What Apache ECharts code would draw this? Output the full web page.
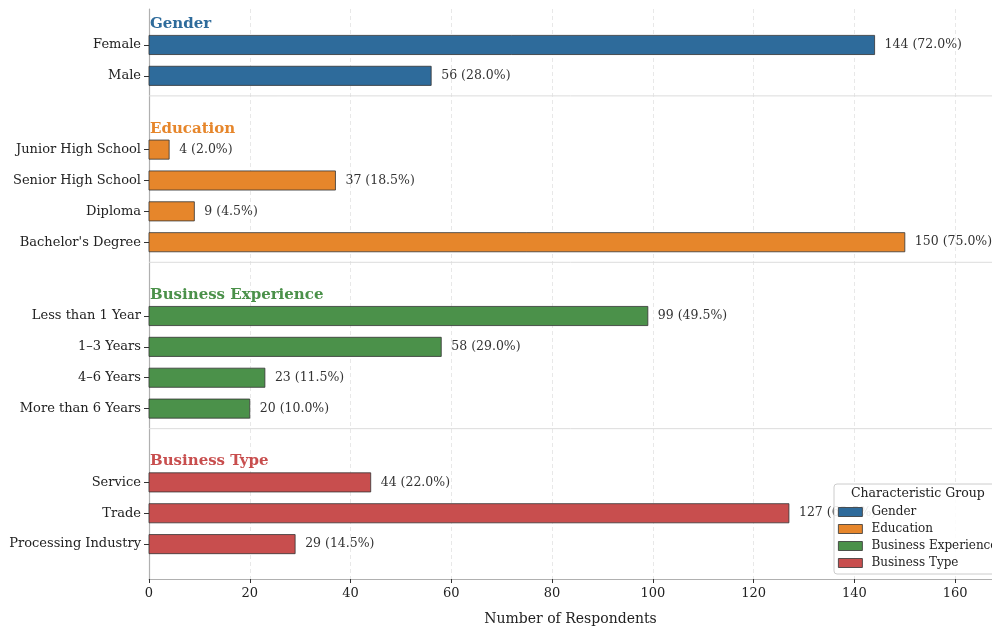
<!DOCTYPE html>
<html style="height: 100%">
<head>
<meta charset="utf-8">
<script src="https://cdn.jsdelivr.net/npm/echarts@6/dist/echarts.min.js"></script>
</head>
<body style="height: 100%; margin: 0; background: #fff;">
<div id="container" style="width: 992px; height: 627px;"></div>
<script type="text/javascript">
// data
var groups = ['Gender', 'Education', 'Business Experience', 'Business Type'];
var genderCats = ['Female', 'Male'];
var genderCounts = [144, 56];
var eduCats = ['Junior High School', 'Senior High School', 'Diploma', "Bachelor's Degree"];
var eduCounts = [4, 37, 9, 150];
var expCats = ['Less than 1 Year', '1–3 Years', '4–6 Years', 'More than 6 Years'];
var expCounts = [99, 58, 23, 20];
var typeCats = ['Service', 'Trade', 'Processing Industry'];
var typeCounts = [44, 127, 29];
var total = 200;

var groupCats = [genderCats, eduCats, expCats, typeCats];
var groupCounts = [genderCounts, eduCounts, expCounts, typeCounts];
var colors = ['#2e6b9b', '#e6862b', '#4b914a', '#c84e4e'];
var FONT = '"DejaVu Serif", serif';
var GAP = 2.39;   // distance between last row of a group and first row of next

// row positions on the (inverted) y value axis
var positions = [], names = [], separators = [], seriesData = [];
var pos = 0;
groupCats.forEach(function (cats, g) {
    var d = [];
    cats.forEach(function (c, i) {
        positions.push(pos);
        names.push(c);
        d.push([groupCounts[g][i], pos, i]);
        if (i < cats.length - 1) pos += 1;
    });
    seriesData.push(d);
    if (g < groupCats.length - 1) {
        separators.push(pos + 0.65);
        pos += GAP;
    }
});

function nameAt(v) {
    var best = 0;
    for (var i = 1; i < positions.length; i++) {
        if (Math.abs(positions[i] - v) < Math.abs(positions[best] - v)) best = i;
    }
    return names[best];
}

function makeRender(g) {
    return function (params, api) {
        var v = api.value(0), y = api.value(1);
        var start = api.coord([0, y]);
        var end = api.coord([v, y]);
        var h = api.size([0, 1])[1] * 0.62;
        var children = [{
            type: 'rect',
            shape: {x: start[0], y: start[1] - h / 2, width: end[0] - start[0], height: h},
            style: {fill: colors[g], stroke: '#333', lineWidth: 0.8}
        }, {
            type: 'text',
            x: end[0] + 10, y: end[1],
            style: {
                text: v + ' (' + (v / total * 100).toFixed(1) + '%)',
                fill: '#333', font: '12.5px ' + FONT,
                verticalAlign: 'middle', align: 'left'
            }
        }];
        if (api.value(2) === 0) {
            var t = api.coord([0, y - 0.68]);
            children.push({
                type: 'text',
                x: t[0] + 1, y: t[1],
                style: {
                    text: groups[g], fill: colors[g],
                    font: 'bold 15px ' + FONT,
                    verticalAlign: 'middle', align: 'left'
                }
            });
        }
        return {type: 'group', children: children};
    };
}

// group separators drawn by a custom series across the whole x range
function renderSeparator(params, api) {
    var y = api.value(0);
    var a = api.coord([0, y]);
    var b = api.coord([167.3, y]);
    return {
        type: 'line',
        shape: {x1: a[0], y1: a[1], x2: b[0], y2: b[1]},
        style: {stroke: '#dcdcdc', lineWidth: 1}
    };
}

var series = groups.map(function (name, g) {
    return {
        name: name,
        type: 'custom',
        renderItem: makeRender(g),
        itemStyle: {color: colors[g]},
        encode: {x: 0, y: 1},
        data: seriesData[g],
        z: 3
    };
});
series.unshift({
    name: 'separators',
    type: 'custom',
    renderItem: renderSeparator,
    encode: {y: 0},
    silent: true,
    data: separators.map(function (v) { return [v]; }),
    z: 1
});

var chart = echarts.init(document.getElementById('container'));
var option = {
    animation: false,
    textStyle: {fontFamily: FONT},
    grid: {left: 149, right: 0, top: 9, bottom: 48, containLabel: false, outerBoundsMode: 'none'},
    title: {
        text: 'Characteristic Group',
        left: 851, top: 487, padding: 0,
        textStyle: {fontFamily: FONT, fontSize: 12.5, fontWeight: 'normal', color: '#222'},
        z: 10
    },
    legend: {
        orient: 'vertical',
        left: 834, top: 484,
        padding: [22, 8, 5, 4],
        itemWidth: 24, itemHeight: 9, itemGap: 5,
        icon: 'rect',
        backgroundColor: 'rgba(255,255,255,0.88)',
        borderColor: '#cccccc', borderWidth: 1, borderRadius: 3,
        itemStyle: {borderColor: '#333', borderWidth: 0.8},
        textStyle: {fontFamily: FONT, fontSize: 12, color: '#222', padding: [0, 0, 0, 4]},
        data: groups
    },
    xAxis: {
        type: 'value',
        min: 0, max: 167.3, interval: 20,
        name: 'Number of Respondents',
        nameLocation: 'middle', nameGap: 33,
        nameTextStyle: {fontFamily: FONT, fontSize: 14, color: '#222'},
        axisLine: {show: true, onZero: false, lineStyle: {color: '#b0b0b0', width: 1.2}},
        axisTick: {show: true, length: 4, lineStyle: {color: '#333'}},
        axisLabel: {fontFamily: FONT, fontSize: 13, color: '#222', margin: 8, showMaxLabel: false},
        splitLine: {show: true, lineStyle: {color: '#e2e2e2', type: [4, 3], width: 0.8}}
    },
    yAxis: {
        type: 'value',
        inverse: true,
        min: -1.165, max: 17.3,
        axisLine: {show: true, onZero: false, lineStyle: {color: '#b0b0b0', width: 1.2}},
        axisTick: {show: true, length: 5, customValues: positions, lineStyle: {color: '#333'}},
        axisLabel: {
            fontFamily: FONT, fontSize: 13, color: '#222', margin: 8,
            customValues: positions,
            formatter: function (v) { return nameAt(v); }
        },
        splitLine: {show: false}
    },
    series: series
};
chart.setOption(option);
</script>
</body>
</html>
